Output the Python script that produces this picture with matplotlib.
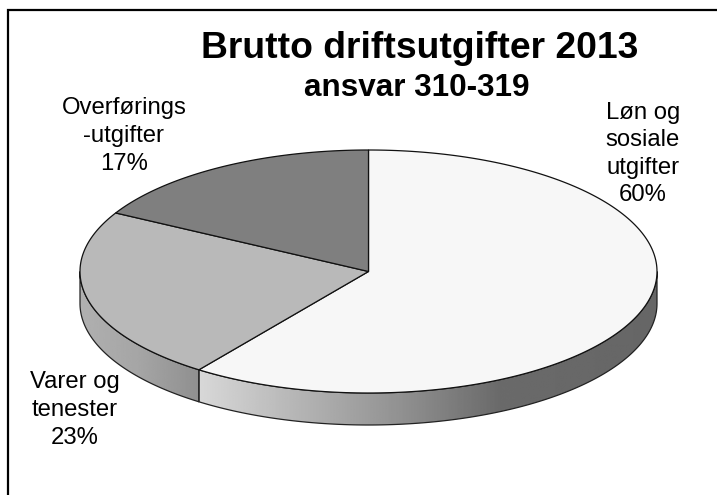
import numpy as np
import matplotlib
matplotlib.use('Agg')
import matplotlib.pyplot as plt
from matplotlib.patches import Polygon

plt.rcParams['font.family'] = ['Liberation Sans', 'DejaVu Sans']

# data
categories = ["Løn og\nsosiale\nutgifter", "Varer og\ntenester", "Overførings\n-utgifter"]
shares = [60, 23, 17]
top_colors = ["#f7f7f7", "#b9b9b9", "#7f7f7f"]

title = "Brutto driftsutgifter 2013"
subtitle = "ansvar 310-319"

# pie geometry in pixels
cx, cy = 368.5, 271.5
rx, ry = 288.5, 121.5
depth = 32


def arc(a0, a1, dy=0.0):
    # angles in degrees, clockwise from the top of the pie
    t = np.radians(np.linspace(a0, a1, 200))
    return np.column_stack([cx + rx * np.sin(t), cy - ry * np.cos(t) + dy])


fig = plt.figure(figsize=(7.17, 4.95), dpi=100)
ax = fig.add_axes([0, 0, 1, 1])
ax.set_xlim(0, 717)
ax.set_ylim(495, 0)
ax.axis('off')

# only the top and left of the frame are inside the picture
ax.plot([7.5, 7.5, 717], [495, 10, 10], color='black', lw=1.6, solid_joinstyle='miter')

# angles where the slices start and stop
edges = np.concatenate([[0], np.cumsum(shares)]) / np.sum(shares) * 360

# side of the pie, front half only
side_parts = [
    (90, edges[1], [199, 300, 400, 500, 657], [216, 180, 145, 106, 102]),
    (edges[1], 270, [80, 140, 198], [176, 165, 144]),
]
for a0, a1, xs, grays in side_parts:
    outline = np.vstack([arc(a0, a1), arc(a0, a1, depth)[::-1]])
    poly = Polygon(outline, closed=True, facecolor='none', edgecolor='none')
    ax.add_patch(poly)
    x0, x1 = outline[:, 0].min(), outline[:, 0].max()
    px = np.linspace(x0, x1, 300)
    im = ax.imshow(np.interp(px, xs, grays)[None, :], cmap='gray', vmin=0, vmax=255,
                   extent=[x0, x1, cy + ry + depth, cy - 5], aspect='auto', zorder=2)
    im.set_clip_path(poly)
    ax.add_patch(Polygon(outline, closed=True, facecolor='none', edgecolor='#222222',
                         lw=0.9, zorder=3))
ax.set_xlim(0, 717)
ax.set_ylim(495, 0)

# top of the pie
for i in range(len(shares)):
    pts = np.vstack([[cx, cy], arc(edges[i], edges[i + 1])])
    ax.add_patch(Polygon(pts, closed=True, facecolor=top_colors[i], edgecolor='#111111',
                         lw=0.9, zorder=4))

# labels
label_pos = [(643, 154), (75, 410), (124, 136)]
for name, share, (lx, ly) in zip(categories, shares, label_pos):
    ax.text(lx, ly, f"{name}\n{share}%", ha='center', va='center', fontsize=17.2,
            linespacing=1.33, color='black', zorder=5)

ax.text(419.5, 48, title, ha='center', va='center', fontsize=26.8, fontweight='bold')
ax.text(417, 87.5, subtitle, ha='center', va='center', fontsize=22.7, fontweight='bold')

fig.savefig("out.png", dpi=100)
